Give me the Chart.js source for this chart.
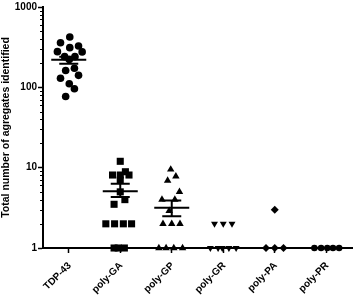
<!DOCTYPE html>
<html>
<head>
<meta charset="utf-8">
<script src="https://cdn.jsdelivr.net/npm/chart.js@4/dist/chart.umd.min.js"></script>
<style>
html,body{margin:0;padding:0;background:#fff;}
#wrap{width:357px;height:297px;position:relative;}
</style>
</head>
<body>
<div id="wrap"><canvas id="c" width="357" height="297"></canvas></div>
<script>
// Categories and tick labels
const categories = ["TDP-43", "poly-GA", "poly-GP", "poly-GR", "poly-PA", "poly-PR"];
const yTickValues = [1, 10, 100, 1000];

// Series values and horizontal jitter (category units)
const tdpValues  = [423, 359, 312, 327, 278, 276, 241, 241, 222, 162, 173, 130, 141, 111, 96, 77];
const tdpJitter  = [0.02, -0.16, 0.02, 0.19, -0.22, 0.26, -0.08, 0.12, 0.01, -0.06, 0.11, -0.16, 0.19, 0.01, 0.11, -0.06];

const gaValues   = [12, 8.9, 8.1, 8.1, 8.1, 7.0, 5.0, 4.0, 3.5, 2, 2, 2, 2, 1, 1, 1];
const gaJitter   = [0, 0.10, -0.15, 0, 0.17, 0, 0, 0.09, -0.12, -0.28, -0.11, 0.06, 0.22, -0.12, -0.04, 0.08];

const gpValues   = [9.5, 7.8, 6.9, 5.0, 4.0, 4.0, 2.9, 2, 2, 2, 1, 1, 1, 1];
const gpJitter   = [-0.02, 0.08, -0.08, 0.15, -0.19, 0.06, -0.05, -0.17, 0, 0.16, -0.25, -0.11, 0.04, 0.21];

const grValues   = [2, 2, 2, 1, 1, 1, 1, 1];
const grJitter   = [-0.17, 0, 0.17, -0.25, -0.1, -0.02, 0.11, 0.25];

const paValues   = [3, 1, 1, 1];
const paJitter   = [0, -0.17, 0, 0.17];

const prValues   = [1, 1, 1, 1, 1];
const prJitter   = [-0.23, -0.1, 0.02, 0.13, 0.25];

// Mean and SEM for first three groups
const meanValues = [220, 5.1, 3.18];
const semHigh    = [241, 6.3, 3.9];
const semLow     = [196, 4.3, 2.48];

const FONT = "Arial, 'Liberation Sans', sans-serif";

function pts(idx, vals, jit) {
  return vals.map((v, j) => ({x: idx + jit[j], y: v}));
}

const meanPlugin = {
  id: 'meanSem',
  afterDatasetsDraw(chart) {
    const xs = chart.scales.x, ys = chart.scales.y, ctx = chart.ctx;
    ctx.save();
    ctx.strokeStyle = '#000';
    ctx.lineWidth = 2;
    meanValues.forEach((m, i) => {
      const cx = xs.getPixelForValue(i);
      const ym = ys.getPixelForValue(m);
      const yh = ys.getPixelForValue(semHigh[i]);
      const yl = ys.getPixelForValue(semLow[i]);
      ctx.beginPath();
      ctx.moveTo(cx - 17.5, ym); ctx.lineTo(cx + 17.5, ym);
      ctx.moveTo(cx - 9.5, yh); ctx.lineTo(cx + 9.5, yh);
      ctx.moveTo(cx - 9.5, yl); ctx.lineTo(cx + 9.5, yl);
      ctx.moveTo(cx, yh); ctx.lineTo(cx, yl);
      ctx.stroke();
    });
    ctx.restore();
  }
};

const axisExtrasPlugin = {
  id: 'axisExtras',
  afterDraw(chart) {
    const xs = chart.scales.x, ys = chart.scales.y, ctx = chart.ctx;
    const left = chart.chartArea.left;
    ctx.save();
    // minor log ticks
    ctx.strokeStyle = '#000';
    ctx.lineWidth = 1;
    for (let d = 1; d < 1000; d *= 10) {
      for (let k = 2; k <= 9; k++) {
        const y = Math.round(ys.getPixelForValue(k * d)) + 0.5;
        ctx.beginPath();
        ctx.moveTo(left - 3, y); ctx.lineTo(left, y);
        ctx.stroke();
      }
    }
    // rotated category labels, right end anchored at the tick
    ctx.fillStyle = '#000';
    ctx.font = "bold 10px " + FONT;
    ctx.textAlign = 'right';
    ctx.textBaseline = 'middle';
    const yBase = chart.chartArea.bottom + 16;
    categories.forEach((c, i) => {
      const cx = xs.getPixelForValue(i);
      ctx.save();
      ctx.translate(cx + 1, yBase);
      ctx.rotate(-Math.PI / 4);
      ctx.fillText(c, 0, 0);
      ctx.restore();
    });
    ctx.restore();
  }
};

const common = {showLine: false, backgroundColor: '#000', borderColor: '#000', borderWidth: 0};

new Chart(document.getElementById('c'), {
  type: 'scatter',
  data: {
    datasets: [
      Object.assign({label: categories[0], data: pts(0, tdpValues, tdpJitter), pointStyle: 'circle', pointRadius: 3.8}, common),
      Object.assign({label: categories[1], data: pts(1, gaValues, gaJitter), pointStyle: 'rect', pointRadius: 5}, common),
      Object.assign({label: categories[2], data: pts(2, gpValues, gpJitter), pointStyle: 'triangle', pointRadius: 4.3}, common),
      Object.assign({label: categories[3], data: pts(3, grValues, grJitter), pointStyle: 'triangle', rotation: 180, pointRadius: 4}, common),
      Object.assign({label: categories[4], data: pts(4, paValues, paJitter), pointStyle: 'rectRot', pointRadius: 4}, common),
      Object.assign({label: categories[5], data: pts(5, prValues, prJitter), pointStyle: 'circle', pointRadius: 3.3}, common)
    ]
  },
  options: {
    responsive: false,
    animation: false,
    clip: false,
    layout: {padding: {top: 5, right: 2, left: 0, bottom: 0}},
    plugins: {legend: {display: false}, tooltip: {enabled: false}},
    scales: {
      x: {
        type: 'linear',
        min: -0.5, max: 5.5,
        afterBuildTicks: (s) => { s.ticks = categories.map((c, i) => ({value: i})); },
        afterFit: (s) => { s.height = 49; },
        ticks: {display: false},
        grid: {drawOnChartArea: false, drawTicks: true, tickLength: 5, tickWidth: 1.5, tickColor: '#000'},
        border: {display: true, color: '#000', width: 2}
      },
      y: {
        type: 'logarithmic',
        min: 1, max: 1000,
        afterBuildTicks: (s) => { s.ticks = yTickValues.map(v => ({value: v, major: true})); },
        afterFit: (s) => { s.width = 43; },
        ticks: {
          color: '#000',
          font: {family: FONT, size: 10, weight: 'bold'},
          padding: 1,
          callback: (v) => String(v)
        },
        title: {
          display: true,
          text: 'Total number of agregates identified',
          color: '#000',
          font: {family: FONT, size: 10.5, weight: 'bold'},
          padding: {top: 0, bottom: 2}
        },
        grid: {drawOnChartArea: false, drawTicks: true, tickLength: 5, tickWidth: 1.5, tickColor: '#000'},
        border: {display: true, color: '#000', width: 2}
      }
    }
  },
  plugins: [meanPlugin, axisExtrasPlugin]
});
</script>
</body>
</html>
